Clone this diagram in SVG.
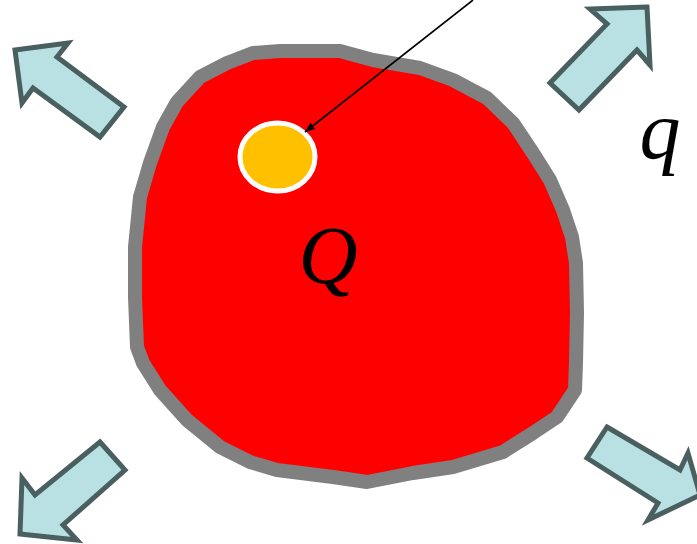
<svg xmlns="http://www.w3.org/2000/svg" width="697" height="544" viewBox="0 0 697 544">
<style>
.barrow{fill:#b9e0e3;stroke:#4a5f5f;stroke-width:5;stroke-linejoin:miter}
.lbl{font-family:"Liberation Serif","Times New Roman",serif;font-style:italic;fill:#000}
</style>
<defs>
<marker id="ah" viewBox="0 0 10 10" refX="10" refY="5" markerWidth="10" markerHeight="8" markerUnits="userSpaceOnUse" orient="auto" preserveAspectRatio="none">
<path d="M0,0 L10,5 L0,10 z" fill="#000"/>
</marker>
</defs>
<rect width="697" height="544" fill="#fff"/>
<g id="blob">
<path d="M280,51 L340,51 L373,60 L420,68 L453,80 L487,98 L513,123 L533,153 L550,180 L563,210 L572,237 L576,263 L577,313 L576,363 L575,390 L557,417 L533,433 L503,452 L453,467 L413,473 L367,482 L333,477 L277,470 L250,462 L220,447 L187,420 L160,390 L143,363 L137,347 L135,297 L135,247 L140,197 L150,163 L163,127 L177,102 L200,77 L227,63 L253,53 Z" fill="#ff0000" stroke="#808080" stroke-width="14" stroke-linejoin="round"/>
</g>
<g id="particle">
<ellipse cx="277.5" cy="157" rx="37.5" ry="34" fill="#ffc000" stroke="#fff" stroke-width="5"/>
</g>
<g id="arrows">
<path class="barrow" d="M15,50 L68,43 L57,57 L124,107 L100,137 L33,88 L22,103 Z"/>
<path class="barrow" d="M647,7 L590,9 L607,24 L550,83 L579,110 L637,50 L650,65 Z"/>
<path class="barrow" d="M100,442 L125,470 L63,525 L77,540 L20,534 L22,478 L35,495 Z"/>
<path class="barrow" d="M607,427 L680,470 L688,453 L700,495 L648,520 L658,503 L587,458 Z"/>
</g>
<g id="connectors">
<line x1="473" y1="0" x2="305" y2="132" stroke="#000" stroke-width="1.6" marker-end="url(#ah)"/>
</g>
<g id="labels">
<text class="lbl" x="328" y="283" font-size="82" text-anchor="middle">Q</text>
<text class="lbl" x="660" y="158" font-size="82" text-anchor="middle">q</text>
</g>
</svg>
